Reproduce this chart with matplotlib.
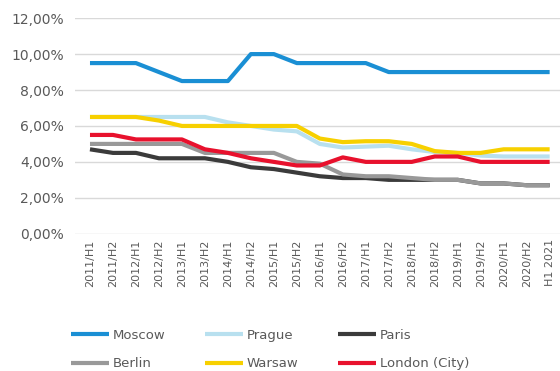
import numpy as np
import matplotlib.pyplot as plt
from matplotlib.ticker import FuncFormatter

# half-year periods
periods = ['2011/H1', '2011/H2', '2012/H1', '2012/H2', '2013/H1', '2013/H2',
           '2014/H1', '2014/H2', '2015/H1', '2015/H2', '2016/H1', '2016/H2',
           '2017/H1', '2017/H2', '2018/H1', '2018/H2', '2019/H1', '2019/H2',
           '2020/H1', '2020/H2', 'H1 2021']

# prime yields, %
moscow = [9.5, 9.5, 9.5, 9.0, 8.5, 8.5, 8.5, 10.0, 10.0, 9.5, 9.5, 9.5, 9.5, 9.0, 9.0, 9.0, 9.0, 9.0, 9.0, 9.0, 9.0]
prague = [6.5, 6.5, 6.5, 6.5, 6.5, 6.5, 6.2, 6.0, 5.8, 5.7, 5.0, 4.8, 4.85, 4.9, 4.7, 4.55, 4.5, 4.35, 4.3, 4.3, 4.3]
paris = [4.7, 4.5, 4.5, 4.2, 4.2, 4.2, 4.0, 3.7, 3.6, 3.4, 3.2, 3.1, 3.1, 3.0, 3.0, 3.0, 3.0, 2.8, 2.8, 2.7, 2.7]
berlin = [5.0, 5.0, 5.0, 5.0, 5.0, 4.5, 4.5, 4.5, 4.5, 4.0, 3.9, 3.3, 3.2, 3.2, 3.1, 3.0, 3.0, 2.8, 2.8, 2.7, 2.7]
warsaw = [6.5, 6.5, 6.5, 6.3, 6.0, 6.0, 6.0, 6.0, 6.0, 6.0, 5.3, 5.1, 5.15, 5.15, 5.0, 4.6, 4.5, 4.5, 4.7, 4.7, 4.7]
london = [5.5, 5.5, 5.25, 5.25, 5.25, 4.7, 4.5, 4.2, 4.0, 3.8, 3.8, 4.25, 4.0, 4.0, 4.0, 4.3, 4.3, 4.0, 4.0, 4.0, 4.0]

series = [('Moscow', moscow, '#1a8fd4'),
          ('Prague', prague, '#b8e0ef'),
          ('Paris', paris, '#3b3b3b'),
          ('Berlin', berlin, '#999999'),
          ('Warsaw', warsaw, '#f7d000'),
          ('London (City)', london, '#e8112d')]

txt = '#595959'
x = np.arange(len(periods))

fig = plt.figure(figsize=(5.6, 3.71), dpi=100)
ax = fig.add_axes([0.134, 0.370, 0.866, 0.581])

lines = {}
for name, vals, col in series:
    lines[name], = ax.plot(x, vals, color=col, lw=3, label=name, solid_capstyle='butt')

ax.set_ylim(0, 12)
ax.set_yticks(np.arange(0, 13, 2))
ax.yaxis.set_major_formatter(FuncFormatter(lambda v, p: f'{v:.2f}%'.replace('.', ',')))
ax.set_xlim(-0.65, 20.45)
ax.set_xticks(x)
ax.set_xticklabels(periods, rotation=90, fontsize=8, color=txt)
ax.tick_params(axis='y', labelsize=10, labelcolor=txt, length=0, pad=8)
ax.tick_params(axis='x', length=0, pad=4)
ax.grid(axis='y', color='#d9d9d9', lw=1)
ax.set_axisbelow(True)
for s in ax.spines.values():
    s.set_visible(False)

# legend fills column by column, so order it to read row by row
order = ['Moscow', 'Berlin', 'Prague', 'Warsaw', 'Paris', 'London (City)']
fig.legend([lines[n] for n in order], order, loc='lower left',
           bbox_to_anchor=(0.106, -0.03), ncol=3, frameon=False,
           fontsize=9.5, labelcolor=txt, handlelength=2.9, handletextpad=0.25,
           columnspacing=3.0, labelspacing=1.15)

fig.savefig('out.png', dpi=100)
